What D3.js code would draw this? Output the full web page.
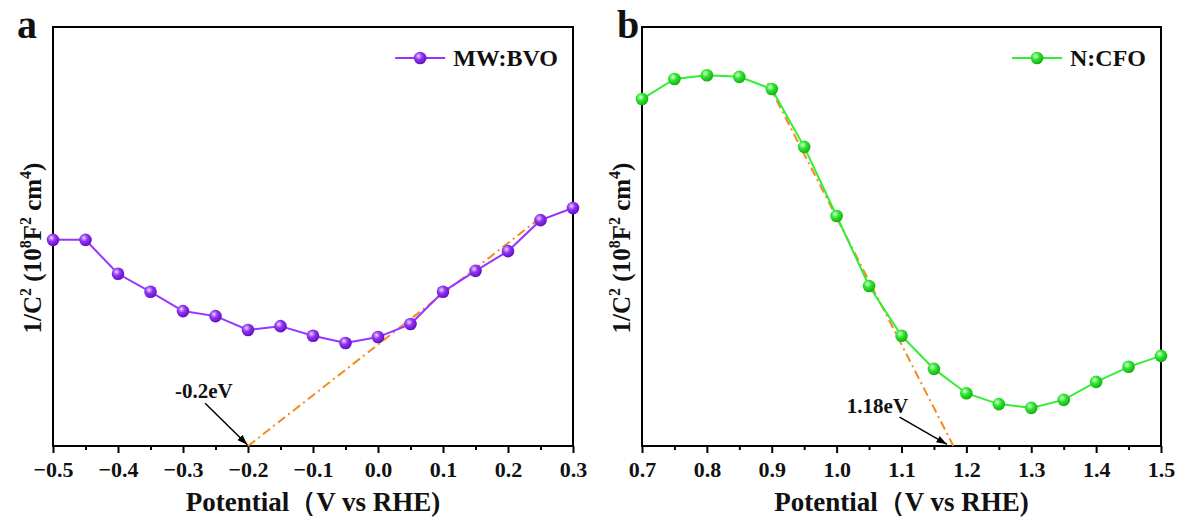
<!DOCTYPE html>
<html>
<head>
<meta charset="utf-8">
<script src="https://cdn.jsdelivr.net/npm/d3@7"></script>
<style>
  body { margin: 0; background: #fff; }
  svg text { font-family: "Liberation Serif", "Times New Roman", serif; font-weight: bold; fill: #111; }
</style>
</head>
<body>
<svg id="chart" width="1180" height="520"></svg>
<script>
// panel a : MW:BVO (arbitrary y units)
var bvoPotential = [-0.5, -0.45, -0.4, -0.35, -0.3, -0.25, -0.2, -0.15, -0.1, -0.05, 0.0, 0.05, 0.1, 0.15, 0.2, 0.25, 0.3];
var bvoValue = [49.2, 49.2, 41.1, 36.8, 32.2, 31.0, 27.7, 28.6, 26.3, 24.6, 26.0, 29.1, 36.8, 41.8, 46.5, 53.9, 56.8];
var bvoFitX = [-0.2, 0.25];
var bvoFitY = [0, 54.5];
var bvoTicks = [-0.5, -0.4, -0.3, -0.2, -0.1, 0.0, 0.1, 0.2, 0.3];

// panel b : N:CFO
var cfoPotential = [0.7, 0.75, 0.8, 0.85, 0.9, 0.95, 1.0, 1.05, 1.1, 1.15, 1.2, 1.25, 1.3, 1.35, 1.4, 1.45, 1.5];
var cfoValue = [82.8, 87.6, 88.5, 88.1, 85.2, 71.4, 54.9, 38.2, 26.3, 18.4, 12.6, 10.0, 9.1, 11.0, 15.3, 18.9, 21.5];
var cfoFitX = [0.894, 1.18];
var cfoFitY = [86.6, 0];
var cfoTicks = [0.7, 0.8, 0.9, 1.0, 1.1, 1.2, 1.3, 1.4, 1.5];

var svg = d3.select("#chart");
var defs = svg.append("defs");

// shaded ball markers
function ballGradient(id, light, base, dark) {
	var g = defs.append("radialGradient").attr("id", id)
		.attr("cx", "38%").attr("cy", "35%").attr("r", "65%");
	g.append("stop").attr("offset", "0%").attr("stop-color", light);
	g.append("stop").attr("offset", "45%").attr("stop-color", base);
	g.append("stop").attr("offset", "100%").attr("stop-color", dark);
}
ballGradient("ballPurple", "#ead6ff", "#8f33f5", "#6510c4");
ballGradient("ballGreen", "#d9ffd9", "#2fe62f", "#14b014");

defs.append("marker").attr("id", "arrowHead")
	.attr("viewBox", "0 0 10 10").attr("refX", 10).attr("refY", 5)
	.attr("markerWidth", 7).attr("markerHeight", 7).attr("orient", "auto")
	.append("path").attr("d", "M0,1.5 L10,5 L0,8.5 Z").attr("fill", "#000");

var drawPanel = function(cfg) {
	var left = cfg.left, right = cfg.right, top = 27, bottom = 446;

	var x = d3.scaleLinear().domain(cfg.xDomain).range([left, right]);
	var y = d3.scaleLinear().domain([0, 100]).range([bottom, top]);

	var g = svg.append("g");

	// minor ticks
	var minor = d3.range(cfg.xDomain[0] + 0.05, cfg.xDomain[1], 0.1);
	g.append("g").attr("transform", "translate(0," + bottom + ")")
		.call(d3.axisBottom(x).tickValues(minor).tickSize(4).tickFormat(""))
		.call(function(a) { a.select(".domain").remove(); })
		.selectAll("line").attr("stroke", "#000").attr("stroke-width", 2);

	// major ticks + labels
	var ax = g.append("g").attr("transform", "translate(0," + bottom + ")")
		.call(d3.axisBottom(x).tickValues(cfg.ticks).tickSize(7).tickPadding(8).tickFormat(d3.format(".1f")));
	ax.select(".domain").remove();
	ax.selectAll("line").attr("stroke", "#000").attr("stroke-width", 2);
	ax.selectAll("text").attr("font-size", "22px").attr("font-family", "Liberation Serif, serif")
		.attr("font-weight", "bold").attr("fill", "#111");

	// frame
	g.append("rect").attr("x", left).attr("y", top).attr("width", right - left).attr("height", bottom - top)
		.attr("fill", "none").attr("stroke", "#000").attr("stroke-width", 2);

	// fit line
	var fit = cfg.fitX.map(function(d, i) { return [d, cfg.fitY[i]]; });
	g.append("path").datum(fit)
		.attr("d", d3.line().x(function(d) { return x(d[0]); }).y(function(d) { return y(d[1]); }))
		.attr("fill", "none").attr("stroke", "#f58a1f").attr("stroke-width", 2)
		.attr("stroke-dasharray", "9,4,2,4");

	// data
	var pts = cfg.px.map(function(d, i) { return [d, cfg.py[i]]; });
	g.append("path").datum(pts)
		.attr("d", d3.line().x(function(d) { return x(d[0]); }).y(function(d) { return y(d[1]); }))
		.attr("fill", "none").attr("stroke", cfg.color).attr("stroke-width", 2);
	g.selectAll(".pt").data(pts).enter().append("circle")
		.attr("cx", function(d) { return x(d[0]); })
		.attr("cy", function(d) { return y(d[1]); })
		.attr("r", 6.3).attr("fill", "url(#" + cfg.ball + ")");

	// annotation
	g.append("text").attr("x", x(cfg.noteX)).attr("y", y(cfg.noteY))
		.attr("text-anchor", "middle").attr("font-size", "21px").text(cfg.note);
	g.append("line")
		.attr("x1", x(cfg.arrow[0])).attr("y1", y(cfg.arrow[1]))
		.attr("x2", x(cfg.arrow[2])).attr("y2", y(cfg.arrow[3]))
		.attr("stroke", "#000").attr("stroke-width", 1.5).attr("marker-end", "url(#arrowHead)");

	// legend
	var lt = g.append("text").attr("x", right - 15).attr("y", 66)
		.attr("text-anchor", "end").attr("font-size", "24px").text(cfg.label);
	var tl = lt.node().getComputedTextLength();
	var lx2 = right - 15 - tl - 8, lx1 = lx2 - 50;
	g.append("line").attr("x1", lx1).attr("x2", lx2).attr("y1", 58).attr("y2", 58)
		.attr("stroke", cfg.color).attr("stroke-width", 2);
	g.append("circle").attr("cx", (lx1 + lx2) / 2).attr("cy", 58).attr("r", 6.3)
		.attr("fill", "url(#" + cfg.ball + ")");

	// axis titles
	g.append("text").attr("x", (left + right) / 2).attr("y", 511)
		.attr("text-anchor", "middle").attr("font-size", "27px")
		.text("Potential\uFF08V vs RHE)");

	var yt = g.append("text").attr("transform", "translate(" + (left - 12) + ",248) rotate(-90)")
		.attr("text-anchor", "middle").attr("font-size", "25px");
	yt.append("tspan").text("1/C");
	yt.append("tspan").attr("font-size", "16px").attr("dy", "-10").text("2");
	yt.append("tspan").attr("dy", "10").text(" (10");
	yt.append("tspan").attr("font-size", "16px").attr("dy", "-10").text("8");
	yt.append("tspan").attr("dy", "10").text("F");
	yt.append("tspan").attr("font-size", "16px").attr("dy", "-10").text("2");
	yt.append("tspan").attr("dy", "10").text(" cm");
	yt.append("tspan").attr("font-size", "16px").attr("dy", "-10").text("4");
	yt.append("tspan").attr("dy", "10").text(")");

	// panel letter
	svg.append("text").attr("x", cfg.letterX).attr("y", 38).attr("font-size", "40px").text(cfg.letter);
};

drawPanel({
	left: 53, right: 573, xDomain: [-0.5, 0.3], ticks: bvoTicks,
	px: bvoPotential, py: bvoValue, fitX: bvoFitX, fitY: bvoFitY,
	color: "#9933ff", ball: "ballPurple", label: "MW:BVO",
	note: "-0.2eV", noteX: -0.268, noteY: 11.5, arrow: [-0.266, 10.2, -0.201, 0.3],
	letter: "a", letterX: 17
});

drawPanel({
	left: 642, right: 1161, xDomain: [0.7, 1.5], ticks: cfoTicks,
	px: cfoPotential, py: cfoValue, fitX: cfoFitX, fitY: cfoFitY,
	color: "#33ee33", ball: "ballGreen", label: "N:CFO",
	note: "1.18eV", noteX: 1.063, noteY: 7.9, arrow: [1.097, 6.9, 1.17, 0.4],
	letter: "b", letterX: 617
});
</script>
</body>
</html>
